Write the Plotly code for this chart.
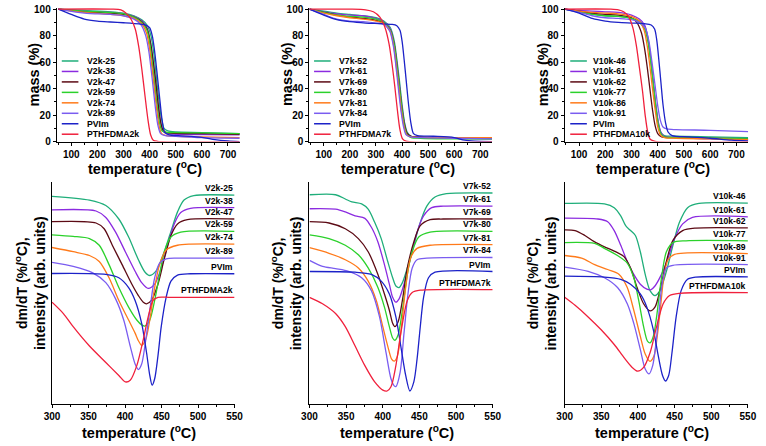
import plotly.graph_objects as go

W, H = 766, 446
FONT = "Liberation Sans, Arial, Helvetica, sans-serif"

colors = ["#1fae7a", "#8b2be0", "#5c0a14", "#2bd12b", "#ff7a1a", "#7a5cf0", "#1c22c8", "#f0203c"]

# ---------------- TGA (top row) ----------------
tga2k_names = ["V2k-25", "V2k-38", "V2k-47", "V2k-59", "V2k-74", "V2k-89", "PVIm", "PTHFDMA2k"]
tga2k_T = [
    [50, 150, 250, 300, 340, 370, 390, 405, 415, 425, 435, 445, 455, 470, 500, 600, 745],
    [50, 150, 250, 300, 340, 370, 390, 402, 412, 420, 430, 440, 450, 465, 500, 600, 745],
    [50, 150, 250, 300, 340, 370, 390, 404, 414, 423, 433, 443, 453, 470, 500, 600, 745],
    [50, 150, 250, 300, 340, 370, 390, 402, 411, 419, 428, 438, 448, 465, 500, 600, 745],
    [50, 150, 250, 300, 340, 370, 388, 400, 409, 417, 426, 436, 446, 465, 500, 600, 745],
    [50, 150, 250, 300, 340, 368, 385, 397, 406, 414, 423, 432, 442, 460, 500, 600, 745],
    [50, 100, 150, 200, 250, 300, 360, 385, 400, 410, 418, 425, 432, 440, 448, 458, 475, 510, 600, 650, 700, 745],
    [50, 250, 290, 310, 330, 345, 358, 370, 382, 394, 404, 414, 430, 745],
]
tga2k_m = [
    [100, 99, 98, 97, 95, 92, 88, 80, 68, 50, 32, 18, 10, 8, 7.2, 6.8, 6],
    [100, 98.5, 97.5, 96.5, 94.5, 91, 86, 76, 62, 48, 30, 16, 8, 6, 5.5, 5.2, 5],
    [100, 98, 97, 96, 94, 90.5, 85, 74, 60, 46, 28, 14, 8, 6.5, 6.2, 6, 5.5],
    [100, 98.5, 97.5, 96.5, 94, 90, 84, 72, 58, 44, 28, 14, 8, 7, 6.8, 6.5, 6],
    [100, 97.5, 96, 95, 93, 89, 82, 70, 56, 42, 26, 12, 6, 4.5, 4, 3.5, 3],
    [100, 97, 96, 95, 92.5, 88, 80, 68, 54, 40, 24, 12, 6, 4.5, 4, 3, 2.5],
    [100, 96, 92.5, 91, 90.3, 89.7, 88.8, 88, 86, 80, 70, 58, 45, 30, 16, 7, 5, 4.4, 3.2, 1.5, 0.5, 0],
    [100, 100, 99.5, 97, 92, 85, 72, 55, 35, 16, 5, 1, 0.2, 0],
]

tga7k_names = ["V7k-52", "V7k-61", "V7k-69", "V7k-80", "V7k-81", "V7k-84", "PVIm", "PTHFDMA7k"]
tga7k_T = [
    [45, 100, 150, 200, 250, 300, 330, 355, 370, 380, 390, 400, 410, 420, 435, 470, 600, 745],
    [45, 100, 150, 200, 250, 300, 330, 355, 370, 380, 390, 400, 410, 420, 435, 470, 600, 745],
    [45, 100, 150, 200, 250, 300, 330, 355, 370, 380, 390, 400, 410, 420, 435, 470, 600, 745],
    [45, 100, 150, 200, 250, 300, 330, 355, 370, 380, 390, 400, 410, 420, 435, 470, 600, 745],
    [45, 100, 150, 200, 250, 300, 330, 355, 368, 378, 388, 398, 408, 418, 435, 470, 600, 745],
    [45, 100, 150, 200, 250, 300, 330, 352, 366, 376, 386, 396, 406, 416, 435, 470, 600, 745],
    [45, 100, 150, 200, 260, 320, 360, 380, 392, 400, 408, 416, 425, 434, 444, 460, 520, 600, 640, 680, 745],
    [45, 200, 260, 290, 315, 335, 350, 362, 372, 382, 392, 402, 415, 745],
]
tga7k_m = [
    [100, 98.5, 97, 96, 95, 93.5, 91, 86, 76, 62, 46, 28, 14, 7, 4, 3.2, 2.8, 2.5],
    [100, 98, 96.5, 95.5, 95, 93, 90.5, 85, 74, 60, 43, 26, 13, 6, 3.5, 3, 2.5, 2.2],
    [100, 97.5, 95.5, 94, 93, 91.5, 89.5, 84, 73, 58, 41, 24, 12, 6, 4, 3.5, 3, 2.8],
    [100, 97.5, 95.5, 94.5, 94, 92.5, 90, 84, 73, 58, 41, 24, 11, 5, 3, 2.5, 2, 1.8],
    [100, 97, 95, 93.5, 92.5, 91, 89, 83, 72, 57, 40, 23, 11, 5, 3.5, 3.2, 3, 3],
    [100, 96, 92.5, 91, 90.5, 89.5, 88.5, 84, 73, 58, 40, 23, 11, 5, 3.5, 3, 2.5, 2],
    [100, 95.5, 92, 90.5, 89.5, 89, 88.5, 87.5, 84, 76, 62, 46, 28, 14, 6, 4.5, 4, 3, 1, 0.3, 0],
    [100, 100, 99.5, 98, 94, 86, 74, 58, 42, 24, 9, 2, 0.3, 0],
]

tga10k_names = ["V10k-46", "V10k-61", "V10k-62", "V10k-77", "V10k-86", "V10k-91", "PVIm", "PTHFDMA10k"]
tga10k_T = [
    [45, 100, 150, 200, 250, 300, 330, 350, 362, 372, 382, 392, 402, 412, 425, 470, 600, 745],
    [45, 100, 150, 200, 250, 300, 330, 350, 362, 372, 382, 392, 402, 412, 425, 470, 600, 745],
    [45, 100, 150, 200, 250, 300, 320, 338, 350, 360, 370, 380, 390, 400, 415, 470, 600, 745],
    [45, 100, 150, 200, 250, 300, 330, 350, 362, 372, 382, 392, 402, 412, 425, 470, 600, 745],
    [45, 100, 150, 200, 250, 300, 330, 348, 360, 370, 380, 390, 400, 410, 425, 470, 600, 745],
    [45, 100, 150, 200, 250, 300, 330, 352, 366, 378, 390, 400, 410, 420, 435, 470, 600, 745],
    [45, 100, 150, 200, 250, 300, 350, 375, 388, 396, 404, 412, 420, 430, 440, 455, 520, 600, 680, 745],
    [45, 220, 250, 270, 290, 305, 318, 330, 342, 352, 362, 372, 390, 745],
]
tga10k_m = [
    [100, 98.5, 96.5, 95, 94.5, 93, 91, 87, 78, 64, 46, 28, 14, 7, 4.5, 4, 3.5, 3],
    [100, 99, 98.5, 98, 97.5, 95.5, 92.5, 88, 79, 65, 47, 29, 15, 7, 4, 3, 2, 1.5],
    [100, 98.5, 97, 96, 95.5, 93.5, 90, 82, 70, 56, 40, 24, 12, 6, 3.5, 3, 2.5, 2],
    [100, 98, 96, 95, 94.5, 93, 90, 85, 76, 62, 45, 27, 13, 6, 3.5, 3, 2.5, 2],
    [100, 98.5, 97.5, 97, 96.5, 94.5, 91, 84, 72, 57, 40, 24, 11, 5, 3, 2.5, 2, 1.5],
    [100, 97.5, 95, 93.5, 93, 92, 90, 86, 76, 60, 42, 27, 16, 11, 9.5, 9, 8.5, 7.5],
    [100, 97, 93, 91, 90, 89.5, 89, 88, 85, 77, 62, 45, 28, 14, 7, 4.5, 3.5, 2.5, 1, 0.5],
    [100, 100, 99.5, 98, 94, 86, 73, 56, 38, 20, 7, 1.5, 0.2, 0],
]

# ---------------- DTG (bottom row, arbitrary offset units) ----------------
dtg2k_T = [
    [300, 351.3, 373.7, 391.5, 404.9, 418.3, 427.2, 433.9, 442.9, 451.8, 462.9, 471.9, 480.8, 494.2, 550],
    [300, 360.3, 373.7, 387.1, 400.4, 413.8, 422.8, 431.7, 440.6, 449.6, 458.5, 467.4, 476.3, 489.7, 550],
    [300, 360.3, 371.4, 382.6, 396.0, 409.4, 418.3, 425.0, 429.5, 436.2, 445.1, 454.0, 462.9, 471.9, 485.3, 550],
    [300, 329.0, 351.3, 364.7, 378.1, 391.5, 404.9, 416.1, 422.8, 427.2, 433.9, 440.6, 447.3, 454.0, 462.9, 476.3, 550],
    [300, 329.0, 351.3, 364.7, 378.1, 391.5, 404.9, 413.8, 418.3, 422.8, 428.3, 433.9, 440.6, 447.3, 456.3, 471.9, 489.7, 550],
    [300, 329.0, 355.8, 373.7, 387.1, 398.2, 407.1, 413.8, 418.3, 422.8, 427.2, 433.9, 440.6, 447.3, 456.3, 471.9, 550],
    [300, 373.7, 391.5, 404.9, 413.8, 422.8, 429.5, 433.9, 437.1, 440.6, 445.1, 449.6, 456.3, 462.9, 471.9, 489.7, 550],
    [300, 315.6, 329.0, 351.3, 373.7, 391.5, 400.4, 407.1, 416.1, 425.0, 431.7, 438.4, 445.1, 462.9, 550],
]
dtg2k_y = [
    [93.4, 91.7, 89.3, 83.2, 75.1, 64.9, 59.4, 57.8, 60.0, 66.8, 77.6, 86.4, 91.7, 93.7, 93.9],
    [87.3, 86.8, 83.9, 77.3, 68.5, 59.7, 54.6, 52.0, 53.9, 61.2, 71.4, 81.0, 86.1, 88.0, 88.3],
    [82.0, 81.4, 78.8, 71.4, 62.7, 53.9, 48.8, 45.8, 45.1, 46.6, 53.9, 65.6, 75.8, 81.0, 82.9, 83.2],
    [76.1, 75.4, 74.4, 71.4, 62.7, 52.4, 43.6, 37.8, 35.6, 35.1, 37.8, 46.6, 58.3, 68.5, 75.1, 77.3, 77.6],
    [70.4, 68.5, 66.8, 64.1, 56.8, 46.6, 37.8, 31.9, 28.5, 26.4, 29.0, 37.8, 52.4, 62.7, 69.3, 71.4, 71.9, 71.9],
    [63.7, 61.9, 59.0, 54.6, 47.3, 37.8, 26.1, 18.0, 15.5, 18.0, 26.1, 42.2, 56.8, 63.4, 65.3, 65.6, 65.6],
    [58.7, 58.3, 56.8, 52.4, 46.6, 36.3, 23.1, 12.9, 8.5, 11.4, 21.7, 34.8, 48.0, 55.3, 58.0, 58.6, 58.6],
    [45.8, 40.7, 34.8, 26.1, 18.7, 12.9, 10.0, 10.7, 17.3, 29.0, 39.2, 46.6, 48.0, 48.0, 48.0],
]

dtg7k_T = [
    [300, 335.6, 348.9, 357.8, 371.2, 380.1, 389.0, 397.9, 406.8, 413.5, 417.9, 422.3, 426.8, 433.5, 442.4, 451.2, 460.1, 471.3, 486.8, 550],
    [300, 335.6, 348.9, 362.3, 375.6, 384.5, 393.4, 402.3, 409.0, 413.5, 417.9, 422.3, 429.0, 437.9, 446.8, 455.7, 466.8, 482.4, 550],
    [300, 326.7, 348.9, 366.7, 380.1, 393.4, 402.3, 409.0, 413.5, 416.5, 421.0, 426.8, 433.5, 442.4, 451.2, 464.6, 482.4, 550],
    [300, 326.7, 348.9, 366.7, 380.1, 393.4, 402.3, 409.0, 413.5, 416.5, 421.0, 426.8, 433.5, 440.2, 449.1, 464.6, 550],
    [300, 326.7, 348.9, 366.7, 380.1, 391.2, 400.1, 406.8, 412.1, 415.7, 420.1, 425.5, 431.3, 437.9, 446.8, 464.6, 550],
    [300, 317.8, 335.6, 353.4, 371.2, 384.5, 395.6, 404.5, 411.2, 415.7, 417.9, 423.7, 429.0, 434.4, 440.2, 446.8, 460.1, 550],
    [300, 362.3, 384.5, 397.9, 409.0, 417.9, 424.6, 431.3, 437.0, 442.4, 446.8, 451.2, 455.7, 462.4, 471.3, 550],
    [300, 317.8, 335.6, 348.9, 362.3, 375.6, 389.0, 400.1, 405.9, 411.2, 417.9, 424.6, 433.5, 440.2, 451.2, 550],
]
dtg7k_y = [
    [94.1, 94.1, 92.2, 90.9, 90.0, 87.6, 81.7, 74.4, 64.1, 56.8, 53.1, 52.4, 54.6, 61.2, 71.4, 81.7, 89.0, 93.1, 94.6, 94.9],
    [87.8, 87.6, 86.4, 84.6, 83.5, 79.5, 72.9, 62.7, 53.9, 48.0, 45.8, 47.3, 53.9, 65.6, 77.3, 84.6, 88.3, 89.0, 89.0],
    [82.0, 81.4, 78.8, 74.4, 68.5, 58.3, 49.5, 42.2, 36.3, 34.8, 37.0, 46.6, 61.2, 72.9, 80.2, 82.9, 83.2, 83.2],
    [76.1, 74.4, 71.4, 67.1, 61.2, 52.4, 43.6, 34.8, 29.7, 28.7, 31.2, 42.2, 58.3, 68.5, 75.1, 77.3, 77.6],
    [70.3, 67.8, 64.9, 61.2, 55.3, 46.6, 34.8, 26.1, 20.2, 19.3, 21.7, 34.8, 52.4, 65.6, 70.0, 71.4, 71.7],
    [64.6, 61.9, 60.9, 59.7, 56.8, 51.0, 39.2, 23.1, 11.4, 8.2, 7.9, 14.3, 31.9, 49.5, 61.2, 64.9, 65.6, 65.9],
    [59.6, 59.3, 58.3, 55.3, 49.5, 39.2, 26.1, 12.9, 5.9, 10.0, 20.2, 34.8, 48.0, 56.8, 59.3, 59.6],
    [48.0, 45.1, 40.7, 34.8, 26.1, 17.3, 10.0, 6.3, 5.9, 7.8, 17.3, 31.9, 46.6, 50.2, 51.2, 51.5],
]

dtg10k_T = [
    [300, 354.3, 367.6, 376.5, 383.2, 389.9, 396.5, 403.2, 409.9, 416.5, 423.2, 429.9, 438.8, 447.7, 456.6, 467.7, 483.3, 550],
    [300, 345.4, 358.7, 367.6, 376.5, 385.4, 394.3, 403.2, 412.1, 417.4, 423.2, 432.1, 441.0, 449.9, 461.0, 474.4, 550],
    [300, 314.2, 327.6, 340.9, 354.3, 367.6, 381.0, 389.9, 398.8, 407.7, 416.5, 423.2, 429.9, 438.8, 447.7, 461.0, 478.8, 550],
    [300, 340.9, 354.3, 372.1, 385.4, 394.3, 401.0, 407.7, 413.0, 416.5, 421.0, 425.4, 432.1, 438.8, 447.7, 465.5, 550],
    [300, 323.1, 340.9, 358.7, 374.3, 385.4, 394.3, 403.2, 409.9, 416.5, 421.9, 426.3, 430.8, 435.2, 441.0, 449.9, 550],
    [300, 332.0, 354.3, 372.1, 385.4, 394.3, 403.2, 409.9, 415.2, 420.1, 424.6, 429.0, 433.5, 438.8, 447.7, 550],
    [300, 354.3, 376.5, 389.9, 403.2, 412.1, 421.0, 427.7, 433.5, 437.5, 441.9, 446.4, 452.1, 458.9, 467.7, 478.8, 550],
    [300, 314.2, 332.0, 349.8, 367.6, 381.0, 392.1, 399.6, 407.7, 416.5, 425.4, 434.4, 443.2, 456.6, 550],
]
dtg10k_y = [
    [90.2, 90.0, 88.3, 84.6, 80.2, 78.0, 75.8, 68.5, 58.3, 51.0, 48.8, 51.0, 59.7, 71.4, 81.7, 88.3, 90.2, 90.3],
    [83.6, 83.2, 82.0, 78.0, 71.4, 64.1, 58.3, 53.9, 51.7, 51.4, 53.1, 58.3, 65.6, 74.4, 81.0, 83.9, 84.2],
    [78.3, 78.0, 75.8, 72.9, 70.7, 68.8, 66.3, 61.2, 52.4, 45.1, 41.9, 43.6, 51.0, 64.1, 73.6, 78.0, 79.1, 79.2],
    [72.6, 72.2, 70.0, 66.8, 63.4, 56.8, 46.6, 34.8, 28.3, 27.5, 30.5, 39.2, 56.8, 68.5, 72.6, 73.4, 73.4],
    [66.8, 65.6, 62.7, 60.5, 58.3, 52.4, 42.2, 30.5, 22.5, 19.2, 21.7, 30.5, 43.6, 56.8, 64.9, 67.3, 67.6],
    [61.6, 59.7, 56.8, 52.4, 45.1, 36.3, 24.6, 15.8, 13.6, 17.3, 27.5, 42.2, 55.3, 61.2, 62.4, 62.7],
    [57.5, 57.1, 56.1, 53.9, 49.5, 43.6, 33.4, 21.7, 12.9, 10.4, 12.9, 23.1, 39.2, 51.0, 56.1, 57.1, 57.2],
    [48.0, 44.4, 39.2, 33.4, 26.8, 20.9, 16.5, 14.8, 16.5, 23.1, 34.8, 45.1, 48.8, 49.8, 50.1],
]
dtg_names = [
    ["V2k-25", "V2k-38", "V2k-47", "V2k-59", "V2k-74", "V2k-89", "PVIm", "PTHFDMA2k"],
    ["V7k-52", "V7k-61", "V7k-69", "V7k-80", "V7k-81", "V7k-84", "PVIm", "PTHFDMA7k"],
    ["V10k-46", "V10k-61", "V10k-62", "V10k-77", "V10k-89", "V10k-91", "PVIm", "PTHFDMA10k"],
]

tga_xticks = [100, 200, 300, 400, 500, 600, 700]
tga_yticks = [0, 20, 40, 60, 80, 100]
dtg_xticks = [300, 350, 400, 450, 500, 550]

# ---------------- layout geometry (pixels) ----------------
top_cols = [(50, 237), (308.3, 495), (569.3, 757)]
bot_cols = [(45, 231.7), (308.3, 495.7), (569.3, 756.7)]
top_y = (3.9, 140.7)
bot_y = (181.7, 409.3)
legend_line_x = [(55, 72), (313, 330), (575, 592)]
legend_text_x = [79, 336.7, 596.7]
legend_row0, legend_step = 58.3, 10.7
ylab_top_x = [26.7, 286, 548]
ylab_bot_x = [22, 284, 545]

def xp(px):
    return px / W

def yp(py):
    return 1 - py / H

fig = go.Figure()
tga_sets = [(tga2k_names, tga2k_T, tga2k_m), (tga7k_names, tga7k_T, tga7k_m), (tga10k_names, tga10k_T, tga10k_m)]
dtg_sets = [(dtg2k_T, dtg2k_y), (dtg7k_T, dtg7k_y), (dtg10k_T, dtg10k_y)]

annotations = []
shapes = []
axis_common = dict(showline=True, linecolor="black", linewidth=1.3, ticks="outside", ticklen=3,
                   tickwidth=1.2, tickcolor="black", showgrid=False, zeroline=False,
                   ticklabeloverflow="allow",
                   tickfont=dict(family=FONT, size=10, color="black", weight="bold"))
lay = {}
for c in range(3):
    xa, ya = f"x{c+1}", f"y{c+1}"
    names, Ts, ms = tga_sets[c]
    for i in range(8):
        fig.add_trace(go.Scatter(x=Ts[i], y=ms[i], mode="lines", xaxis=xa, yaxis=ya,
                                 line=dict(color=colors[i], width=1.3, shape="spline", smoothing=0.8),
                                 showlegend=False, hoverinfo="skip"))
    lay[f"xaxis{c+1}"] = dict(axis_common, domain=[xp(top_cols[c][0]), xp(top_cols[c][1])], range=[45, 745],
                              tickvals=tga_xticks, anchor=ya,
                              minor=dict(ticks="outside", ticklen=2, tickwidth=1, tickcolor="black", dtick=50, tick0=0))
    lay[f"yaxis{c+1}"] = dict(axis_common, domain=[yp(top_y[1]), yp(top_y[0])], range=[0, 101],
                              tickvals=tga_yticks, anchor=xa,
                              minor=dict(ticks="outside", ticklen=2, tickwidth=1, tickcolor="black", dtick=10, tick0=0))
    xb, yb = f"x{c+4}", f"y{c+4}"
    Ts, ys = dtg_sets[c]
    for i in range(8):
        fig.add_trace(go.Scatter(x=Ts[i], y=ys[i], mode="lines", xaxis=xb, yaxis=yb,
                                 line=dict(color=colors[i], width=1.3, shape="spline", smoothing=0.8),
                                 showlegend=False, hoverinfo="skip"))
        annotations.append(dict(x=550, y=ys[i][-1], xref=xb, yref=yb, text=dtg_names[c][i],
                                xanchor="right", yanchor="middle", yshift=7, showarrow=False,
                                font=dict(family=FONT, size=8.6, color="black", weight="bold")))
    lay[f"xaxis{c+4}"] = dict(axis_common, domain=[xp(bot_cols[c][0]), xp(bot_cols[c][1])], range=[300, 550],
                              tickvals=dtg_xticks, anchor=yb,
                              minor=dict(ticks="outside", ticklen=2, tickwidth=1, tickcolor="black", dtick=25, tick0=300))
    lay[f"yaxis{c+4}"] = dict(showline=True, linecolor="black", linewidth=1.3, showgrid=False, zeroline=False,
                              showticklabels=False, ticks="", domain=[yp(bot_y[1]), yp(bot_y[0])],
                              range=[0, 100], anchor=xb)
    for i in range(8):
        ry = legend_row0 + i * legend_step
        shapes.append(dict(type="line", xref="paper", yref="paper",
                           x0=xp(legend_line_x[c][0]), x1=xp(legend_line_x[c][1]), y0=yp(ry), y1=yp(ry),
                           line=dict(color=colors[i], width=1.5)))
        annotations.append(dict(x=xp(legend_text_x[c]), y=yp(ry), xref="paper", yref="paper",
                                text=tga_sets[c][0][i], xanchor="left", yanchor="middle", showarrow=False,
                                font=dict(family=FONT, size=8.7, color="black", weight="bold")))
    tcx = (top_cols[c][0] + top_cols[c][1]) / 2 - 3
    bcx = (bot_cols[c][0] + bot_cols[c][1]) / 2 - 4
    annotations.append(dict(x=xp(tcx), y=yp(167.5), xref="paper", yref="paper",
                            text="temperature (<sup>o</sup>C)", showarrow=False, xanchor="center", yanchor="middle",
                            font=dict(family=FONT, size=14.5, color="black", weight="bold")))
    annotations.append(dict(x=xp(bcx), y=yp(437.5), xref="paper", yref="paper",
                            text="temperature (<sup>o</sup>C)", showarrow=False, xanchor="center", yanchor="middle",
                            font=dict(family=FONT, size=14.5, color="black", weight="bold")))
    annotations.append(dict(x=xp(ylab_top_x[c]), y=yp(72), xref="paper", yref="paper", textangle=-90,
                            text="mass (%)", showarrow=False, xanchor="center", yanchor="middle",
                            font=dict(family=FONT, size=14.5, color="black", weight="bold")))
    annotations.append(dict(x=xp(ylab_bot_x[c]), y=yp(286), xref="paper", yref="paper", textangle=-90,
                            text="dm/dT (%/<sup>o</sup>C),<br>intensity (arb. units)", showarrow=False,
                            xanchor="center", yanchor="middle",
                            font=dict(family=FONT, size=14, color="black", weight="bold")))

fig.update_layout(width=W, height=H, margin=dict(l=0, r=0, t=0, b=0), plot_bgcolor="white",
                  paper_bgcolor="white", showlegend=False, annotations=annotations, shapes=shapes, **lay)
fig.write_html("out.html", config={"displayModeBar": False},
               post_script="document.body.style.margin='0px';document.body.style.overflow='hidden';")
